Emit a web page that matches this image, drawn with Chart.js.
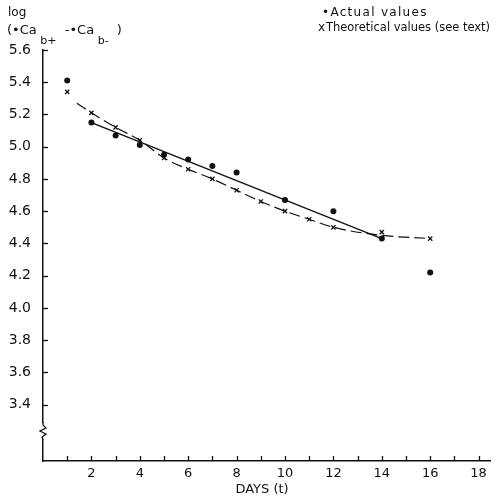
<!DOCTYPE html>
<html>
<head>
<meta charset="utf-8">
<script src="https://cdn.jsdelivr.net/npm/chart.js@4.4.1/dist/chart.umd.min.js"></script>
<style>
    html, body { margin: 0; padding: 0; background: #fff; }
    #wrap { width: 496px; height: 497px; }
</style>
</head>
<body>
<div id="wrap"><canvas id="chart" width="496" height="497"></canvas></div>
<script>
// ============================================
// Data
// ============================================

const actualDays = [1, 2, 3, 4, 5, 6, 7, 8, 10, 12, 14, 16];
const actualValues = [5.41, 5.15, 5.07, 5.01, 4.95, 4.92, 4.88, 4.84, 4.67, 4.60, 4.43, 4.22];

const theoDays = [1, 2, 3, 4, 5, 6, 7, 8, 9, 10, 11, 12, 14, 16];
const theoValues = [5.34, 5.21, 5.12, 5.04, 4.93, 4.86, 4.80, 4.73, 4.66, 4.60, 4.55, 4.50, 4.47, 4.43];

// dashed curve through the theoretical values
const curveDays = [1.4, 2, 3, 4, 5, 6, 7, 8, 9, 10, 11, 12, 14, 16];
const curveValues = [5.27, 5.21, 5.12, 5.04, 4.93, 4.86, 4.80, 4.73, 4.66, 4.60, 4.55, 4.50, 4.45, 4.43];

// straight fitted line
const fitDays = [2, 14];
const fitValues = [5.15, 4.43];

const xTickLabels = [2, 4, 6, 8, 10, 12, 14, 16, 18];
const xMinorTicks = [1, 2, 3, 4, 5, 6, 7, 8, 9, 10, 11, 12, 13, 14, 15, 16, 17, 18];
const yTickLabels = [3.4, 3.6, 3.8, 4.0, 4.2, 4.4, 4.6, 4.8, 5.0, 5.2, 5.4, 5.6];

const toPoints = (xs, ys) => xs.map((x, i) => ({ x: x, y: ys[i] }));

const INK = "#111";
const FONT = "'DejaVu Sans', sans-serif";

// ============================================
// Plugin: inward ticks, axis break, texts
// ============================================

const paperPlugin = {
    id: "paper",
    afterDraw(chart) {
        const ctx = chart.ctx;
        const xs = chart.scales.x;
        const ys = chart.scales.y;
        const area = chart.chartArea;

        ctx.save();
        ctx.strokeStyle = INK;
        ctx.lineWidth = 1.3;

        // x ticks pointing up
        xMinorTicks.forEach((d) => {
            const px = Math.round(xs.getPixelForValue(d)) + 0.5;
            ctx.beginPath();
            ctx.moveTo(px, area.bottom);
            ctx.lineTo(px, area.bottom - 5);
            ctx.stroke();
        });

        // y ticks pointing right
        yTickLabels.forEach((v) => {
            const py = Math.round(ys.getPixelForValue(v)) + 0.5;
            ctx.beginPath();
            ctx.moveTo(area.left, py);
            ctx.lineTo(area.left + 5, py);
            ctx.stroke();
        });

        // axis break (zigzag)
        const bx = area.left;
        const by = area.bottom - 30;
        ctx.fillStyle = "#fff";
        ctx.fillRect(bx - 2, by - 8, 4, 16);
        ctx.beginPath();
        ctx.moveTo(bx, by - 9);
        ctx.lineTo(bx, by - 6);
        ctx.lineTo(bx + 3, by - 3);
        ctx.lineTo(bx - 3, by);
        ctx.lineTo(bx + 3, by + 3);
        ctx.lineTo(bx - 1, by + 6);
        ctx.lineTo(bx, by + 9);
        ctx.stroke();

        // texts
        ctx.fillStyle = INK;
        ctx.textBaseline = "middle";
        ctx.textAlign = "left";

        ctx.font = "12px " + FONT;
        ctx.letterSpacing = "1.3px";
        ctx.fillText("•Actual values", 322, 13);
        ctx.letterSpacing = "0px";
        ctx.fillText("x", 318, 28);
        ctx.fillText("Theoretical values (see text)", 326, 28, 164);

        // y label
        ctx.font = "12px " + FONT;
        ctx.fillText("log", 8, 13);
        let x = 7;
        const base = 31;
        const parts = [
            ["(•Ca", 0, 13],
            [" b+", 10, 11],
            ["  -•Ca", 0, 13],
            [" b-", 10, 11],
            ["  )", 0, 13],
        ];
        parts.forEach(([t, dy, size]) => {
            ctx.font = size + "px " + FONT;
            ctx.fillText(t, x, base + dy);
            x += ctx.measureText(t).width;
        });

        // x title
        ctx.font = "13px " + FONT;
        ctx.textAlign = "center";
        ctx.fillText("DAYS (t)", 262, 490);

        ctx.restore();
    },
};

// ============================================
// Chart
// ============================================

function renderChart() {
    const ctx = document.getElementById("chart").getContext("2d");

    new Chart(ctx, {
        type: "scatter",
        data: {
            datasets: [
                {
                    label: "Fit",
                    type: "line",
                    data: toPoints(fitDays, fitValues),
                    borderColor: INK,
                    borderWidth: 1.4,
                    pointRadius: 0,
                    fill: false,
                },
                {
                    label: "Curve",
                    type: "line",
                    data: toPoints(curveDays, curveValues),
                    borderColor: INK,
                    borderWidth: 1.2,
                    borderDash: [11, 5],
                    pointRadius: 0,
                    tension: 0.4,
                    cubicInterpolationMode: "monotone",
                    fill: false,
                },
                {
                    label: "Theoretical values (see text)",
                    data: toPoints(theoDays, theoValues),
                    pointStyle: "crossRot",
                    pointRadius: 3,
                    borderColor: INK,
                    borderWidth: 1.3,
                },
                {
                    label: "Actual values",
                    data: toPoints(actualDays, actualValues),
                    pointStyle: "circle",
                    pointRadius: 3,
                    backgroundColor: INK,
                    borderColor: INK,
                    borderWidth: 0,
                },
            ],
        },
        options: {
            responsive: false,
            animation: false,
            layout: {
                padding: { top: 50, right: 3, left: 0, bottom: 0 },
            },
            plugins: {
                legend: { display: false },
                tooltip: { enabled: false },
            },
            scales: {
                x: {
                    type: "linear",
                    min: 0,
                    max: 18.5,
                    border: { color: INK, width: 1.5 },
                    grid: { display: false, drawTicks: false },
                    afterBuildTicks: (s) => {
                        s.ticks = xTickLabels.map((v) => ({ value: v }));
                    },
                    afterFit: (s) => {
                        s.height = 36;
                    },
                    ticks: {
                        padding: 5,
                        color: INK,
                        font: { family: FONT, size: 13 },
                    },
                },
                y: {
                    type: "linear",
                    min: 3.05,
                    max: 5.6,
                    border: { color: INK, width: 1.5 },
                    grid: { display: false, drawTicks: false },
                    afterBuildTicks: (s) => {
                        s.ticks = yTickLabels.map((v) => ({ value: v }));
                    },
                    afterFit: (s) => {
                        s.width = 43;
                    },
                    ticks: {
                        padding: 12,
                        color: INK,
                        font: { family: FONT, size: 14 },
                        callback: (v) => v.toFixed(1),
                    },
                },
            },
        },
        plugins: [paperPlugin],
    });
}

renderChart();
</script>
</body>
</html>
